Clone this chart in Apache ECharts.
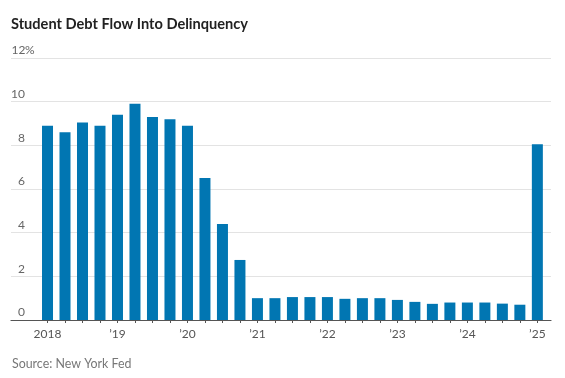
<!DOCTYPE html>
<html>
<head>
<meta charset="utf-8">
<script src="https://cdn.jsdelivr.net/npm/echarts@6/dist/echarts.min.js"></script>
<style>
  html, body { margin: 0; padding: 0; background: #fff; }
  #chart { width: 565px; height: 378px; }
</style>
</head>
<body>
<div id="chart"></div>
<script>
// Quarterly categories (2018 Q1 .. 2025 Q1)
const quarters = [
  '2018 Q1','2018 Q2','2018 Q3','2018 Q4',
  '2019 Q1','2019 Q2','2019 Q3','2019 Q4',
  '2020 Q1','2020 Q2','2020 Q3','2020 Q4',
  '2021 Q1','2021 Q2','2021 Q3','2021 Q4',
  '2022 Q1','2022 Q2','2022 Q3','2022 Q4',
  '2023 Q1','2023 Q2','2023 Q3','2023 Q4',
  '2024 Q1','2024 Q2','2024 Q3','2024 Q4',
  '2025 Q1'
];
// Percent of student debt flowing into delinquency
const flowValues = [
  8.9, 8.6, 9.05, 8.9,
  9.4, 9.9, 9.3, 9.2,
  8.9, 6.5, 4.4, 2.75,
  1.0, 1.0, 1.05, 1.05,
  1.05, 0.97, 1.0, 1.0,
  0.92, 0.83, 0.74, 0.8,
  0.8, 0.8, 0.75, 0.7,
  8.05
];
// Year tick labels (one per first quarter)
const yearLabels = ['2018', '\u201919', '\u201920', '\u201921', '\u201922', '\u201923', '\u201924', '\u201925'];
const yTicks = [0, 2, 4, 6, 8, 10, 12];

const chart = echarts.init(document.getElementById('chart'), null, { renderer: 'canvas' });
const FONT = 'Lato';

const option = {
  animation: false,
  backgroundColor: '#ffffff',
  title: [
    {
      text: 'Student Debt Flow Into Delinquency',
      left: 6, top: 12,
      textStyle: { fontFamily: FONT, fontWeight: 'bold', fontSize: 14.6, color: '#222' }
    },
    {
      text: 'Source: New York Fed',
      left: 7, top: 353,
      textStyle: { fontFamily: FONT, fontWeight: 'normal', fontSize: 12.4, color: '#777' }
    }
  ],
  grid: { left: 11, right: 14, top: 58, bottom: 58 },
  xAxis: {
    type: 'value',
    min: -2.087,
    max: 28.78,
    splitLine: { show: false },
    axisLine: { show: true, onZero: false, lineStyle: { color: '#555', width: 1.2 } },
    axisTick: {
      show: true, length: 3, lineStyle: { color: '#555' },
      customValues: quarters.map((q, i) => i)
    },
    axisLabel: {
      customValues: yearLabels.map((l, k) => k * 4),
      formatter: (v) => yearLabels[Math.round(v / 4)],
      fontFamily: FONT, fontSize: 12, color: '#555', margin: 8
    }
  },
  yAxis: {
    type: 'value',
    min: yTicks[0],
    max: yTicks[yTicks.length - 1],
    interval: 2,
    axisLine: { show: false },
    axisTick: { show: false },
    splitLine: { show: true, lineStyle: { color: '#e3e3e3', width: 1 } },
    axisLabel: {
      align: 'left',
      verticalAlign: 'bottom',
      margin: -1,
      lineHeight: 15,
      fontFamily: FONT, fontSize: 12, color: '#666',
      formatter: (v) => '{n|' + v + '}' + (v === 12 ? '%' : ''),
      rich: {
        n: { width: 13, align: 'right', fontFamily: FONT, fontSize: 12, color: '#666', lineHeight: 15 }
      }
    }
  },
  series: [{
    type: 'bar',
    data: flowValues.map((v, i) => [i, v]),
    barWidth: 11,
    itemStyle: { color: '#0176b2' }
  }]
};
chart.setOption(option);
</script>
</body>
</html>
